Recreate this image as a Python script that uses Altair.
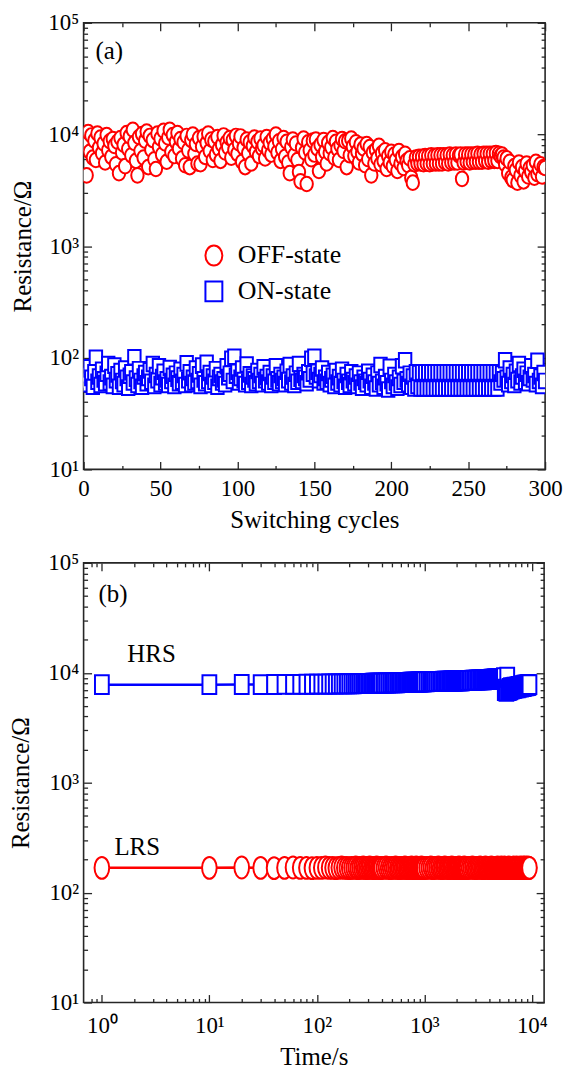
import altair as alt
import pandas as pd

FONT = "Liberation Serif"
RED = "#ff0000"
BLUE = "#0000ff"
INK = "#262626"

# ---------------- panel (a): endurance ----------------
cycles = list(range(1, 301))
off_state = [
    8200, 4300, 10500, 7000, 9800, 6200, 8800, 5900, 10200, 7600,
    9400, 6800, 8300, 5600, 9900, 7200, 8700, 6300, 9100, 7900,
    5400, 8600, 4500, 9300, 6900, 8100, 5200, 10300, 7400, 9600,
    6500, 11000, 8400, 5800, 4300, 9500, 7100, 10100, 6200, 8800,
    10600, 5100, 9700, 7300, 8900, 6000, 4900, 10200, 7700, 9200,
    6600, 10800, 8300, 5700, 9400, 11000, 7000, 9900, 6400, 8600,
    10300, 7500, 9100, 6100, 8500, 5300, 9700, 7200, 5100, 8900,
    10000, 6700, 8200, 5500, 9300, 5400, 7800, 9600, 6300, 8400,
    10200, 7100, 9000, 5900, 8700, 6600, 9500, 7400, 5800, 8100,
    9800, 6900, 8500, 7700, 9300, 6200, 8900, 7300, 9700, 6700,
    8300, 9600, 5700, 7600, 5100, 9000, 6800, 8500, 5500, 7900,
    9400, 7000, 8600, 6400, 9200, 7500, 8000, 6100, 9500, 7200,
    8400, 6600, 9100, 7800, 10000, 6900, 8700, 5800, 7400, 9300,
    6300, 8600, 5600, 4500, 7700, 9000, 6500, 8300, 5900, 4600,
    3800, 7600, 9200, 6900, 3600, 8500, 7200, 6000, 8800, 6600,
    9000, 7500, 4700, 8100, 6300, 8900, 7000, 5500, 8400, 6800,
    7700, 9300, 6200, 8600, 7400, 5900, 8000, 9100, 7100, 8700,
    5100, 8800, 6500, 9200, 7800, 6400, 8500, 7000, 5600, 8100,
    6700, 7500, 5300, 8200, 6000, 7700, 4300, 6900, 5500, 7300,
    6100, 7900, 5400, 6800, 5800, 7200, 4900, 6400, 5600, 7000,
    5200, 6600, 5900, 4700, 7100, 5500, 6300, 5000, 6700, 5800,
    5300, 6100, 4100, 3700, 5400, 6200, 5500, 6300, 5500, 6300,
    5400, 6400, 5500, 6400, 5400, 6500, 5500, 6400, 5500, 6500,
    5500, 6500, 5500, 6500, 5600, 6500, 5500, 6600, 5600, 6500,
    5600, 6600, 5600, 6500, 6600, 4000, 5600, 6600, 5700, 6600,
    5600, 6600, 5700, 6600, 5700, 6700, 5700, 6600, 5700, 6700,
    5800, 6700, 5700, 6700, 5800, 6700, 5800, 6800, 5800, 6700,
    6400, 6600, 6200, 5400, 6100, 4500, 5700, 4100, 3900, 5200,
    4800, 3700, 5600, 4300, 5100, 3800, 4700, 5500, 4200, 5000,
    4600, 5300, 4100, 5700, 4400, 4900, 5400, 4200, 5100, 5000,
]
on_state = [
    62, 70, 58, 82, 66, 55, 74, 100, 61, 68,
    57, 78, 64, 59, 72, 88, 60, 67, 56, 85,
    63, 71, 55, 76, 62, 58, 80, 66, 54, 69,
    74, 60, 101, 65, 57, 79, 62, 55, 68, 73,
    59, 66, 77, 61, 88, 56, 70, 63, 84, 58,
    67, 75, 60, 64, 57, 81, 62, 69, 56, 72,
    65, 59, 78, 61, 70, 57, 89, 63, 74, 58,
    66, 60, 80, 62, 71, 56, 85, 64, 59, 90,
    62, 73, 57, 68, 61, 79, 55, 66, 70, 60,
    64, 58, 84, 67, 72, 98, 62, 102, 69, 75,
    60, 66, 80, 63, 58, 87, 61, 71, 57, 68,
    64, 59, 76, 62, 70, 58, 82, 63, 67, 60,
    73, 57, 68, 61, 84, 64, 59, 70, 62, 66,
    58, 75, 63, 86, 60, 68, 57, 72, 61, 88,
    65, 62, 70, 66, 59, 74, 64, 98, 72, 102,
    68, 75, 63, 70, 80, 60, 66, 61, 73, 58,
    64, 69, 56, 76, 60, 67, 58, 78, 62, 55,
    70, 61, 57, 74, 63, 59, 68, 56, 72, 60,
    54, 66, 61, 58, 75, 63, 55, 69, 60, 53,
    72, 58, 86, 61, 55, 67, 59, 52, 83, 62,
    56, 70, 60, 54, 66, 57, 84, 61, 95, 64,
    58, 72, 55, 68, 53, 74, 56, 73, 53, 74,
    53, 74, 53, 74, 53, 74, 53, 74, 53, 74,
    53, 74, 53, 74, 53, 74, 53, 74, 53, 74,
    53, 74, 53, 74, 53, 74, 53, 74, 53, 74,
    53, 74, 53, 74, 53, 74, 53, 74, 53, 74,
    53, 74, 53, 74, 53, 74, 53, 74, 53, 74,
    60, 72, 64, 95, 66, 58, 80, 62, 70, 57,
    75, 63, 88, 60, 68, 78, 61, 72, 59, 66,
    84, 64, 70, 58, 94, 62, 68, 56, 73, 62,
]
state_names = ["OFF-state", "ON-state"]

# ---------------- panel (b): retention ----------------
times = [
    1,
    10, 20, 30, 40, 50, 60, 70, 80, 90, 100,
    110, 120, 130, 140, 150, 160, 170, 180, 190, 200,
    210, 220, 230, 240, 250, 260, 270, 280, 290, 300,
    310, 320, 330, 340, 350, 360, 370, 380, 390, 400,
    420, 440, 460, 480, 500, 520, 540, 560, 580, 600,
    620, 640, 660, 680, 700, 720, 740, 760, 780, 800,
    820, 840, 860, 880, 900, 920, 940, 960, 980, 1000,
    1050, 1100, 1150, 1200, 1250, 1300, 1350, 1400, 1450, 1500,
    1550, 1600, 1650, 1700, 1750, 1800, 1850, 1900, 1950, 2000,
    2050, 2100, 2150, 2200, 2250, 2300, 2350, 2400, 2450, 2500,
    2600, 2700, 2800, 2900, 3000, 3100, 3200, 3300, 3400, 3500,
    3600, 3700, 3800, 3900, 4000, 4100, 4200, 4300, 4400, 4500,
    4600, 4700, 4800, 4900, 5000, 5100, 5200, 5300, 5400, 5500,
    5600, 5700, 5800, 5900, 6000, 6100, 6200, 6300, 6400, 6500,
    6600, 6700, 6800, 6900, 7000, 7100, 7200, 7300, 7400, 7500,
    7600, 7700, 7800, 7900, 8000, 8100, 8200, 8300, 8400, 8500,
    8600, 8700, 8800, 8900, 9000, 9100, 9200, 9300, 9400, 9500,
]
lrs = [
    168,
    168, 169, 168, 167, 168, 169, 168, 168, 167, 168,
    168, 169, 168, 168, 167, 168, 169, 168, 168, 167,
    168, 168, 169, 167, 168, 168, 169, 168, 167, 168,
    169, 168, 168, 167, 168, 169, 168, 168, 167, 168,
    168, 169, 168, 167, 168, 168, 169, 168, 167, 168,
    168, 168, 169, 168, 167, 168, 168, 169, 168, 167,
    168, 169, 168, 168, 167, 168, 169, 168, 168, 167,
    168, 168, 169, 167, 168, 168, 169, 168, 167, 168,
    169, 168, 168, 167, 168, 169, 168, 168, 167, 168,
    168, 169, 168, 167, 168, 168, 169, 168, 167, 168,
    168, 168, 169, 168, 167, 168, 168, 169, 168, 167,
    168, 169, 168, 168, 167, 168, 169, 168, 168, 167,
    168, 168, 169, 167, 168, 168, 169, 168, 167, 168,
    169, 168, 168, 167, 168, 169, 168, 168, 167, 168,
    168, 169, 168, 167, 168, 168, 169, 168, 167, 168,
    168, 168, 169, 168, 167, 168, 168, 169, 168, 167,
    168, 169, 168, 168, 167, 168, 169, 168, 168, 168,
]
hrs = [
    7800,
    7800, 7820, 7800, 7830, 7840, 7850, 7850, 7860, 7870, 7880,
    7880, 7890, 7900, 7900, 7910, 7920, 7920, 7930, 7940, 7940,
    7950, 7950, 7960, 7970, 7970, 7980, 7980, 7990, 8000, 8000,
    8010, 8010, 8020, 8020, 8030, 8030, 8040, 8040, 8050, 8050,
    8060, 8070, 8080, 8090, 8100, 8100, 8110, 8120, 8130, 8140,
    8150, 8150, 8160, 8170, 8180, 8180, 8190, 8200, 8210, 8210,
    8220, 8230, 8230, 8240, 8250, 8250, 8260, 8270, 8270, 8280,
    8290, 8300, 8310, 8320, 8330, 8340, 8350, 8350, 8360, 8370,
    8380, 8390, 8390, 8400, 8410, 8410, 8420, 8430, 8430, 8440,
    8450, 8450, 8460, 8470, 8470, 8480, 8490, 8490, 8500, 8510,
    8520, 8530, 8550, 8560, 8570, 8590, 8600, 8610, 8630, 8640,
    8650, 8670, 8680, 8690, 8700, 8720, 8730, 8740, 8750, 8770,
    8780, 8790, 8800, 8820, 8830, 8840, 8850, 8870, 8880, 9000,
    6900, 7100, 6800, 9100, 7000, 6900, 7200, 7000, 7300, 7100,
    7200, 7300, 7200, 7400, 7300, 7300, 7400, 7400, 7300, 7500,
    7400, 7500, 7500, 7400, 7600, 7500, 7600, 7600, 7500, 7700,
    7600, 7700, 7700, 7600, 7700, 7800, 7700, 7700, 7800, 7800,
]
retention_names = ["HRS", "LRS"]

# ---------------- axis helpers ----------------
W1, H1 = 464, 449
W2, H2 = 463, 442

ELL_A = "M-0.85,0A0.85,1,0,1,0,0.85,0A0.85,1,0,1,0,-0.85,0Z"
RECT_A = "M-0.85,-1H0.85V1H-0.85Z"
ELL_B = "M-0.67,0A0.67,1,0,1,0,0.67,0A0.67,1,0,1,0,-0.67,0Z"
RECT_B = "M-0.73,-1H0.73V1H-0.73Z"

POW_LABEL = "'10' + ['\u2070','\u00b9','\u00b2','\u00b3','\u2074','\u2075'][round(log(datum.value)/LN10)]"
MAJOR_LOG = "abs(log(datum.value)/LN10 - round(log(datum.value)/LN10)) < 0.001"
MAJOR_LIN = "datum.value % 50 == 0"

lin_ticks = [0, 25, 50, 75, 100, 125, 150, 175, 200, 225, 250, 275, 300]
lin_labels = [0, 50, 100, 150, 200, 250, 300]
decades_y = [10, 100, 1000, 10000, 100000]
decades_x = [1, 10, 100, 1000, 10000]
log_ticks_y = [m * 10 ** e for e in range(1, 5) for m in range(1, 10)] + [100000]
log_ticks_x = [0.8, 0.9] + [m * 10 ** e for e in range(0, 4) for m in range(1, 10)] + [10000]


def tick_axis(orient, values, offset, test):
    return alt.Axis(orient=orient, values=values, offset=offset, labels=False, title=None,
                    domain=False, grid=False, ticks=True, tickColor=INK, tickWidth=1.3,
                    tickSize={"condition": {"test": test, "value": 8}, "value": 4})


def label_axis(orient, values, title, expr=None, lp=6, tp=10):
    kw = dict(orient=orient, values=values, title=title, ticks=False, tickSize=0,
              domain=False, grid=False, labelFont=FONT, labelFontSize=23,
              labelColor="black", labelFlush=False, labelOverlap=False,
              labelPadding=lp, titleFont=FONT, titleFontSize=25,
              titleFontWeight="normal", titleColor="black", titlePadding=tp)
    if expr:
        kw["labelExpr"] = expr
    return alt.Axis(**kw)


def text_layer(label, x, y):
    return alt.Chart(pd.DataFrame({"label": [label]})).mark_text(
        align="left", baseline="middle", font=FONT, fontSize=25, color="black"
    ).encode(text="label:N", x=alt.value(x), y=alt.value(y))


ys = alt.Scale(type="log", domain=[10, 100000], nice=False)

# ---------------- panel (a) chart ----------------
df_a = pd.DataFrame({
    "cycle": cycles + cycles,
    "R": off_state + on_state,
    "state": [state_names[0]] * len(off_state) + [state_names[1]] * len(on_state),
})
xs_a = alt.Scale(domain=[0, 300], nice=False, zero=False)
leg = alt.Legend(title=None, orient="none", legendX=118, legendY=221, labelFont=FONT,
                 labelFontSize=26, labelColor="black", symbolSize=400, symbolStrokeWidth=2,
                 symbolFillColor="white", rowPadding=8, labelOffset=11, padding=0)

pts_a = alt.Chart(df_a).mark_point(
    filled=False, fill="white", fillOpacity=1, strokeWidth=2, size=215, opacity=1, clip=True
).encode(
    x=alt.X("cycle:Q", scale=xs_a, axis=label_axis("bottom", lin_labels, "Switching cycles", lp=8, tp=7)),
    y=alt.Y("R:Q", scale=ys, axis=label_axis("left", decades_y, "Resistance/\u03a9", expr=POW_LABEL, lp=5, tp=12)),
    stroke=alt.Stroke("state:N", scale=alt.Scale(domain=state_names, range=[RED, BLUE]), legend=leg),
    shape=alt.Shape("state:N", scale=alt.Scale(domain=state_names, range=[ELL_A, RECT_A]), legend=leg),
)
ticks_a1 = alt.Chart(df_a).mark_point(opacity=0).encode(
    x=alt.X("cycle:Q", scale=xs_a, axis=tick_axis("top", lin_ticks, -H1, MAJOR_LIN)),
    y=alt.Y("R:Q", scale=ys, axis=tick_axis("right", log_ticks_y, -W1, MAJOR_LOG)),
)
ticks_a2 = alt.Chart(df_a).mark_point(opacity=0).encode(
    x=alt.X("cycle:Q", scale=xs_a, axis=tick_axis("bottom", lin_ticks, -H1, MAJOR_LIN)),
    y=alt.Y("R:Q", scale=ys, axis=tick_axis("left", log_ticks_y, -W1, MAJOR_LOG)),
)
top = alt.layer(pts_a, ticks_a1, ticks_a2, text_layer("(a)", 12, 28)).resolve_axis(
    x="independent", y="independent"
).properties(width=W1, height=H1)

# ---------------- panel (b) chart ----------------
n = len(times)
df_b = pd.DataFrame({
    "time": times + times,
    "Rb": hrs + lrs,
    "level": [retention_names[0]] * n + [retention_names[1]] * n,
})
xs_b = alt.Scale(type="log", domain=[0.676, 13000], nice=False)
col_b = alt.Scale(domain=retention_names, range=[BLUE, RED])

line_b = alt.Chart(df_b).mark_line(strokeWidth=2.5, clip=True).encode(
    x=alt.X("time:Q", scale=xs_b, axis=tick_axis("top", log_ticks_x, -H2, MAJOR_LOG)),
    y=alt.Y("Rb:Q", scale=ys, axis=tick_axis("right", log_ticks_y, -W2, MAJOR_LOG)),
    color=alt.Color("level:N", scale=col_b, legend=None),
)
pts_b = alt.Chart(df_b).mark_point(
    filled=False, fill="white", fillOpacity=1, strokeWidth=2, opacity=1, clip=True
).encode(
    x=alt.X("time:Q", scale=xs_b, axis=label_axis("bottom", decades_x, "Time/s", expr=POW_LABEL, lp=12, tp=7)),
    y=alt.Y("Rb:Q", scale=ys, axis=label_axis("left", decades_y, "Resistance/\u03a9", expr=POW_LABEL, lp=5, tp=14)),
    stroke=alt.Stroke("level:N", scale=col_b, legend=None),
    shape=alt.Shape("level:N", scale=alt.Scale(domain=retention_names, range=[RECT_B, ELL_B]), legend=None),
    size=alt.Size("level:N", scale=alt.Scale(domain=retention_names, range=[361, 484]), legend=None),
)
ticks_b = alt.Chart(df_b).mark_point(opacity=0).encode(
    x=alt.X("time:Q", scale=xs_b, axis=tick_axis("bottom", log_ticks_x, -H2, MAJOR_LOG)),
    y=alt.Y("Rb:Q", scale=ys, axis=tick_axis("left", log_ticks_y, -W2, MAJOR_LOG)),
)
bottom = alt.layer(
    line_b, pts_b, ticks_b,
    text_layer("(b)", 15, 31), text_layer("HRS", 44, 92), text_layer("LRS", 31, 286),
).resolve_axis(x="independent", y="independent").properties(width=W2, height=H2)

chart = alt.vconcat(top, bottom, spacing=18).resolve_scale(
    color="independent", stroke="independent", shape="independent", size="independent"
).resolve_legend(
    color="independent", stroke="independent", shape="independent", size="independent"
).properties(
    padding={"left": 0, "top": 0, "right": 0, "bottom": 0}, background="white"
).configure_view(stroke=INK, strokeWidth=1.6)

chart.save("out.html", embed_options={"renderer": "svg", "actions": False})
